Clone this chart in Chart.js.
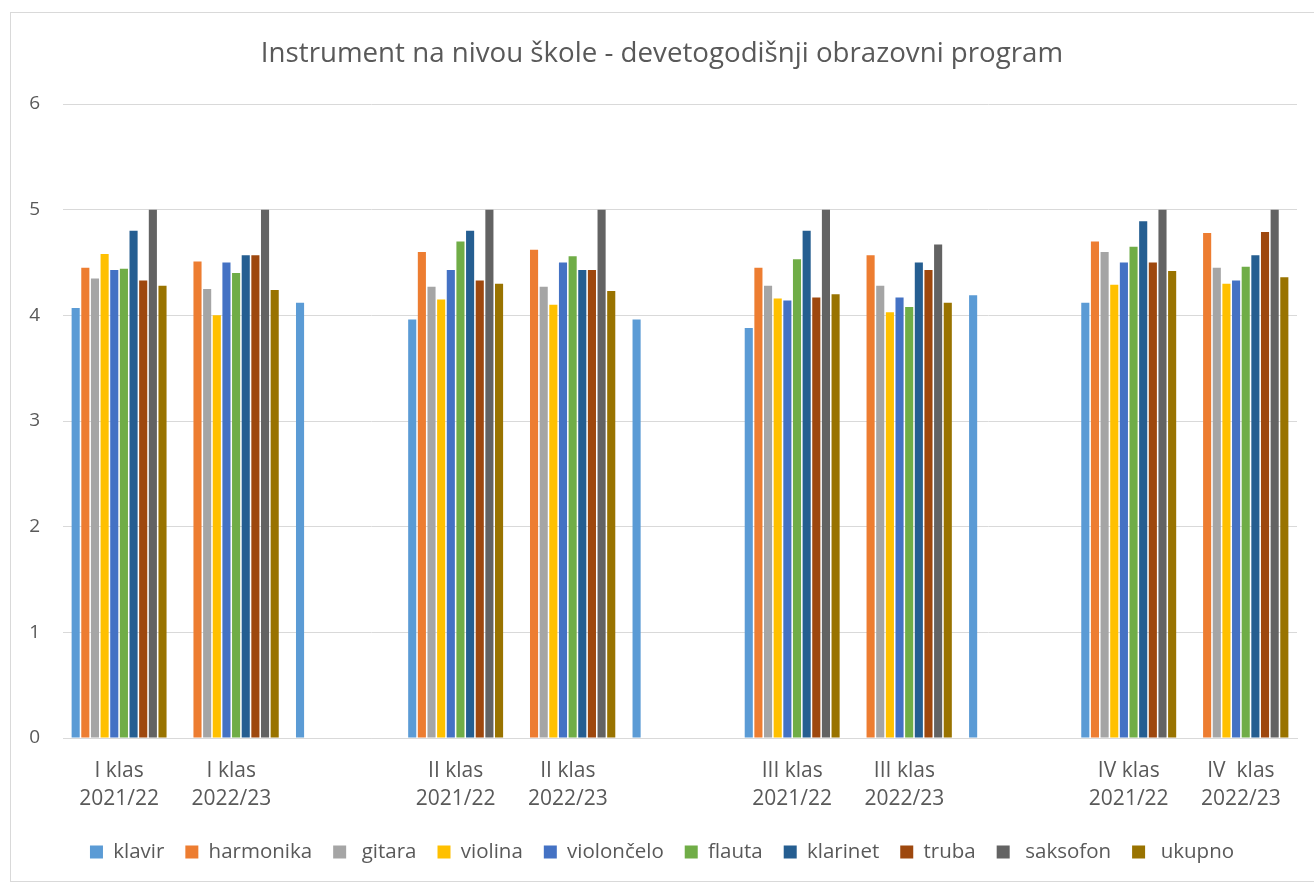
<!DOCTYPE html>
<html>
<head>
<meta charset="utf-8">
<script src="https://cdn.jsdelivr.net/npm/chart.js@4/dist/chart.umd.min.js"></script>
<style>
  body { margin: 0; background: #fff; }
  #frame { position: absolute; left: 10px; top: 12px; width: 1310px; height: 868px; border: 1px solid #d9d9d9; }
  #chart { position: absolute; left: 0; top: 0; }
</style>
</head>
<body>
<div id="frame"></div>
<canvas id="chart" width="1314" height="883"></canvas>
<script>
// categories (empty slots between school years, as in the original sheet)
const labels = [
    ["I klas", "2021/22"], ["I klas", "2022/23"], "",
    ["II klas", "2021/22"], ["II klas", "2022/23"], "",
    ["III klas", "2021/22"], ["III klas", "2022/23"], "",
    ["IV klas", "2021/22"], ["IV  klas", "2022/23"]
];

const klavir     = [4.07, null, 4.12, 3.96, null, 3.96, 3.88, null, 4.19, 4.12, null];
const harmonika  = [4.45, 4.51, null, 4.60, 4.62, null, 4.45, 4.57, null, 4.70, 4.78];
const gitara     = [4.35, 4.25, null, 4.27, 4.27, null, 4.28, 4.28, null, 4.60, 4.45];
const violina    = [4.58, 4.00, null, 4.15, 4.10, null, 4.16, 4.03, null, 4.29, 4.30];
const violoncelo = [4.43, 4.50, null, 4.43, 4.50, null, 4.14, 4.17, null, 4.50, 4.33];
const flauta     = [4.44, 4.40, null, 4.70, 4.56, null, 4.53, 4.08, null, 4.65, 4.46];
const klarinet   = [4.80, 4.57, null, 4.80, 4.43, null, 4.80, 4.50, null, 4.89, 4.57];
const truba      = [4.33, 4.57, null, 4.33, 4.43, null, 4.17, 4.43, null, 4.50, 4.79];
const saksofon   = [5.00, 5.00, null, 5.00, 5.00, null, 5.00, 4.67, null, 5.00, 5.00];
const ukupno     = [4.28, 4.24, null, 4.30, 4.23, null, 4.20, 4.12, null, 4.42, 4.36];

const seriesNames = ["klavir", "harmonika", " gitara", "violina", "violončelo",
                     "flauta", "klarinet", "truba", " saksofon", " ukupno"];
const seriesData = [klavir, harmonika, gitara, violina, violoncelo,
                    flauta, klarinet, truba, saksofon, ukupno];
const colors = ["#5B9BD5", "#ED7D31", "#A5A5A5", "#FFC000", "#4472C4",
                "#70AD47", "#255E91", "#9E480E", "#636363", "#997300"];

const FONT = "'Open Sans', sans-serif";
const GREY = "#595959";

new Chart(document.getElementById("chart"), {
    type: "bar",
    data: {
        labels: labels,
        datasets: seriesNames.map((name, i) => ({
            label: name,
            data: seriesData[i],
            backgroundColor: colors[i],
            categoryPercentage: 0.86,
            barPercentage: 0.84
        }))
    },
    options: {
        responsive: false,
        devicePixelRatio: 1,
        animation: false,
        layout: { padding: { left: 27, right: 17, top: 0, bottom: 10.75 } },
        plugins: {
            title: {
                display: true,
                text: "Instrument na nivou škole - devetogodišnji obrazovni program",
                color: GREY,
                font: { family: FONT, size: 27.7, weight: "normal" },
                padding: { top: 37, bottom: 33.8 }
            },
            legend: {
                position: "bottom",
                labels: {
                    color: GREY,
                    font: { family: FONT, size: 20.5 },
                    boxWidth: 13,
                    boxHeight: 13,
                    padding: 21
                }
            },
            tooltip: { enabled: false }
        },
        scales: {
            x: {
                afterFit: scale => { scale.height = 82.75; },
                grid: { display: false, drawTicks: false },
                border: { display: true, color: "#d9d9d9" },
                ticks: {
                    color: GREY,
                    font: { family: FONT, size: 21, lineHeight: 28 / 21 },
                    padding: 19,
                    maxRotation: 0,
                    autoSkip: false
                }
            },
            y: {
                min: 0,
                max: 6,
                afterFit: scale => { scale.width = 36; },
                grid: { color: "#d9d9d9", drawTicks: false },
                border: { display: false },
                ticks: {
                    stepSize: 1,
                    color: GREY,
                    font: { family: FONT, size: 19 },
                    padding: 23
                }
            }
        }
    }
});
</script>
</body>
</html>
